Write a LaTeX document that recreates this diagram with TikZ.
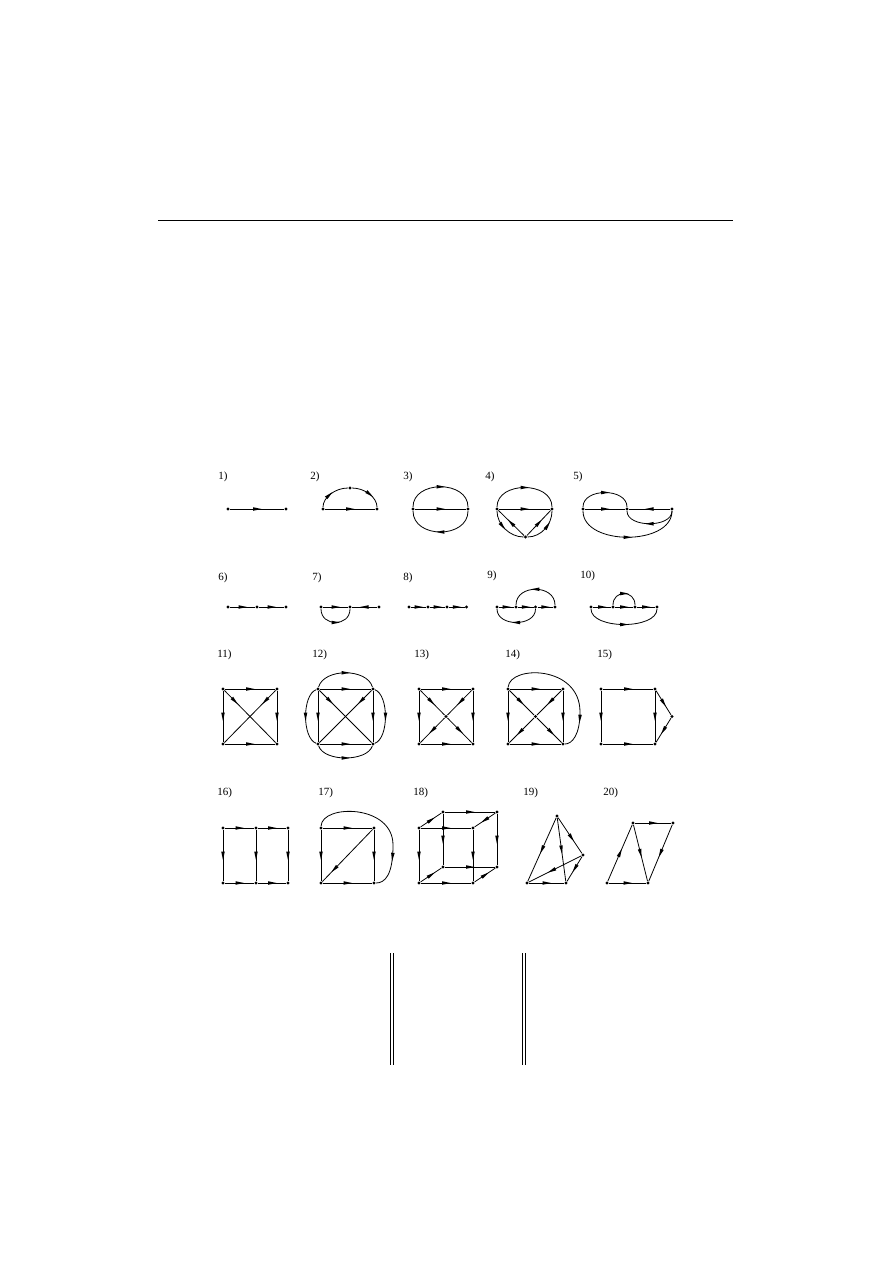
\documentclass[tikz,border=0pt]{standalone}
\usepackage{fontspec}
\setmainfont{Liberation Serif}
\usetikzlibrary{decorations.markings}

\tikzset{
  vtx/.style={circle, fill, inner sep=0pt, minimum size=3.2pt},
  midarr/.style={postaction={decorate, decoration={markings,
      mark=at position #1 with {\fill (4.5pt,0pt) -- (-4pt,1.8pt) -- (-4pt,-1.8pt) -- cycle;}}}},
  midarr/.default=0.5,
  lbl/.style={anchor=west, inner sep=0pt, font=\fontsize{11}{13}\selectfont}
}

\begin{document}
\begin{tikzpicture}[x=1pt, y=-1pt, line width=0.8pt]
                \useasboundingbox (0,0) rectangle (893,1263);
                % Rule
                \draw[line width=1pt] (158,220) -- (733,220);
                % Labels
                \foreach \x/\y/\t in {218/477/1, 310/477/2, 403/477/3, 485/477/4, 573/477/5,
                                      218/578/6, 312/578/7, 403/578/8, 487/576/9, 580/576/10,
                                      217/655/11, 312/655/12, 414/655/13, 505/655/14, 597/655/15,
                                      217/793/16, 318/793/17, 413/793/18, 523/793/19, 603/793/20} {
                    \node[lbl] (lab\t) at (\x,\y) {\t)};
                }
                % 1)
                \node[vtx] (n1a) at (228,509) {};
                \node[vtx] (n1b) at (286,509) {};
                \draw[midarr] (n1a) -- (n1b);
                % 2)
                \node[vtx] (n2l) at (323,509) {};
                \node[vtx] (n2t) at (350,488) {};
                \node[vtx] (n2r) at (377,509) {};
                \draw[midarr] (n2l) -- (n2r);
                \draw[midarr=0.4] (n2l) .. controls (323,497.4) and (335.1,488) .. (n2t);
                \draw[midarr=0.55] (n2t) .. controls (364.9,488) and (377,497.4) .. (n2r);
                % 3)
                \node[vtx] (n3l) at (413,509) {};
                \node[vtx] (n3r) at (468,509) {};
                \draw[midarr] (n3l) -- (n3r);
                \draw[midarr] (n3l) .. controls (413,480) and (468,480) .. (n3r);
                \draw[midarr] (n3r) .. controls (468,539) and (413,539) .. (n3l);
                % 4)
                \node[vtx] (n4l) at (497,509) {};
                \node[vtx] (n4r) at (552,509) {};
                \node[vtx] (n4b) at (525.5,537) {};
                \draw[midarr] (n4l) -- (n4r);
                \draw[midarr] (n4l) .. controls (497,481) and (552,481) .. (n4r);
                \draw[midarr] (n4b) -- (n4l);
                \draw[midarr] (n4b) -- (n4r);
                \draw[midarr=0.4] (n4l) .. controls (497,524.5) and (509.8,537) .. (n4b);
                \draw[midarr=0.6] (n4b) .. controls (541.2,537) and (552,524.5) .. (n4r);
                % 5)
                \node[vtx] (n5l) at (583,509) {};
                \node[vtx] (n5m) at (627,509) {};
                \node[vtx] (n5r) at (672,509) {};
                \draw[midarr] (n5l) -- (n5m);
                \draw[midarr] (n5r) -- (n5m);
                \draw[midarr] (n5l) .. controls (583,487.7) and (627,487.7) .. (n5m);
                \draw[midarr] (n5r) .. controls (672,528) and (627,528) .. (n5m);
                \draw[midarr] (n5l) .. controls (583,546) and (672,546) .. (n5r);
                % 6)
                \foreach \n/\x in {a/228, b/257, c/286} {
                    \node[vtx] (n6\n) at (\x,607) {};
                }
                \draw[midarr] (n6a) -- (n6b);
                \draw[midarr] (n6b) -- (n6c);
                % 7)
                \foreach \n/\x in {a/321, b/350, c/379} {
                    \node[vtx] (n7\n) at (\x,607) {};
                }
                \draw[midarr] (n7a) -- (n7b);
                \draw[midarr] (n7c) -- (n7b);
                \draw[midarr] (n7a) .. controls (321,627) and (350,627) .. (n7b);
                % 8)
                \foreach \n/\x in {a/409, b/428, c/447, d/466.5} {
                    \node[vtx] (n8\n) at (\x,607) {};
                }
                \draw[midarr] (n8a) -- (n8b);
                \draw[midarr] (n8b) -- (n8c);
                \draw[midarr] (n8c) -- (n8d);
                % 9)
                \foreach \n/\x in {a/497, b/516, c/535.5, d/555} {
                    \node[vtx] (n9\n) at (\x,607) {};
                }
                \draw[midarr] (n9a) -- (n9b);
                \draw[midarr] (n9b) -- (n9c);
                \draw[midarr] (n9c) -- (n9d);
                \draw[midarr] (n9d) .. controls (555,584) and (516,584) .. (n9b);
                \draw[midarr] (n9c) .. controls (535.5,627) and (497,627) .. (n9a);
                % 10)
                \foreach \n/\x in {a/591, b/613, c/635, d/657} {
                    \node[vtx] (n10\n) at (\x,607) {};
                }
                \draw[midarr] (n10a) -- (n10b);
                \draw[midarr] (n10b) -- (n10c);
                \draw[midarr] (n10c) -- (n10d);
                \draw[midarr] (n10b) .. controls (613,589.7) and (635,589.7) .. (n10c);
                \draw[midarr] (n10a) .. controls (591,629.7) and (657,629.7) .. (n10d);
                % 11)
                \node[vtx] (n11a) at (223,689) {};
                \node[vtx] (n11b) at (277,689) {};
                \node[vtx] (n11c) at (223,744) {};
                \node[vtx] (n11d) at (277,744) {};
                \draw[midarr] (n11a) -- (n11b);
                \draw[midarr] (n11a) -- (n11c);
                \draw[midarr] (n11b) -- (n11d);
                \draw[midarr] (n11c) -- (n11d);
                \draw[midarr=0.2] (n11a) -- (n11d);
                \draw[midarr=0.2] (n11b) -- (n11c);
                % 12)
                \node[vtx] (n12a) at (318,689) {};
                \node[vtx] (n12b) at (373,689) {};
                \node[vtx] (n12c) at (318,744) {};
                \node[vtx] (n12d) at (373,744) {};
                \draw[midarr] (n12a) -- (n12b);
                \draw[midarr] (n12a) -- (n12c);
                \draw[midarr] (n12b) -- (n12d);
                \draw[midarr] (n12c) -- (n12d);
                \draw[midarr=0.2] (n12a) -- (n12d);
                \draw[midarr=0.2] (n12b) -- (n12c);
                \draw[midarr] (n12a) .. controls (324,668) and (367,668) .. (n12b);
                \draw[midarr] (n12a) .. controls (302,695) and (302,738) .. (n12c);
                \draw[midarr] (n12b) .. controls (389,695) and (389,738) .. (n12d);
                \draw[midarr] (n12c) .. controls (324,762) and (367,762) .. (n12d);
                % 13)
                \node[vtx] (n13a) at (419,689) {};
                \node[vtx] (n13b) at (473,689) {};
                \node[vtx] (n13c) at (419,744) {};
                \node[vtx] (n13d) at (473,744) {};
                \node[vtx] (n13e) at (446,716.5) {};
                \draw[midarr] (n13a) -- (n13b);
                \draw[midarr] (n13a) -- (n13c);
                \draw[midarr] (n13b) -- (n13d);
                \draw[midarr] (n13c) -- (n13d);
                \draw[midarr=0.45] (n13a) -- (n13e);
                \draw[midarr=0.45] (n13b) -- (n13e);
                \draw[midarr=0.5] (n13e) -- (n13c);
                \draw[midarr=0.5] (n13e) -- (n13d);
                % 14)
                \node[vtx] (n14a) at (508,689) {};
                \node[vtx] (n14b) at (563,689) {};
                \node[vtx] (n14c) at (508,744) {};
                \node[vtx] (n14d) at (563,744) {};
                \node[vtx] (n14e) at (535.5,716.5) {};
                \coordinate (k14) at (580,712);
                \draw[midarr] (n14a) -- (n14b);
                \draw[midarr] (n14a) -- (n14c);
                \draw[midarr] (n14b) -- (n14d);
                \draw[midarr] (n14c) -- (n14d);
                \draw[midarr=0.45] (n14a) -- (n14e);
                \draw[midarr=0.45] (n14b) -- (n14e);
                \draw[midarr=0.57] (n14e) -- (n14c);
                \draw[midarr=0.57] (n14e) -- (n14d);
                \draw[midarr=0.77] (n14a) .. controls (510,665) and (580,665) .. (k14)
                    .. controls (580,735) and (572,744) .. (n14d);
                % 15)
                \node[vtx] (n15a) at (601,689) {};
                \node[vtx] (n15b) at (655,689) {};
                \node[vtx] (n15c) at (601,744) {};
                \node[vtx] (n15d) at (655,744) {};
                \node[vtx] (n15e) at (672,716.5) {};
                \draw[midarr] (n15a) -- (n15b);
                \draw[midarr] (n15a) -- (n15c);
                \draw[midarr] (n15b) -- (n15d);
                \draw[midarr] (n15c) -- (n15d);
                \draw[midarr] (n15b) -- (n15e);
                \draw[midarr] (n15e) -- (n15d);
                % 16)
                \foreach \n/\x in {a/223, b/256, c/288} {
                    \node[vtx] (n16t\n) at (\x,828) {};
                    \node[vtx] (n16b\n) at (\x,883) {};
                    \draw[midarr] (n16t\n) -- (n16b\n);
                }
                \draw[midarr] (n16ta) -- (n16tb);
                \draw[midarr] (n16tb) -- (n16tc);
                \draw[midarr] (n16ba) -- (n16bb);
                \draw[midarr] (n16bb) -- (n16bc);
                % 17)
                \node[vtx] (n17a) at (321,828) {};
                \node[vtx] (n17b) at (374,828) {};
                \node[vtx] (n17c) at (321,883) {};
                \node[vtx] (n17d) at (374,883) {};
                \coordinate (k17) at (393,845);
                \draw[midarr] (n17a) -- (n17b);
                \draw[midarr] (n17a) -- (n17c);
                \draw[midarr] (n17b) -- (n17d);
                \draw[midarr] (n17c) -- (n17d);
                \draw[midarr=0.76] (n17b) -- (n17c);
                \draw[midarr=0.76] (n17a) .. controls (322,804) and (393,804) .. (k17)
                    .. controls (393,875) and (385,883) .. (n17d);
                % 18)
                \node[vtx] (n18a) at (419,828) {};
                \node[vtx] (n18b) at (473,828) {};
                \node[vtx] (n18c) at (419,883) {};
                \node[vtx] (n18d) at (473,883) {};
                \node[vtx] (n18e) at (443,812) {};
                \node[vtx] (n18f) at (497,812) {};
                \node[vtx] (n18g) at (443,867) {};
                \node[vtx] (n18h) at (497,867) {};
                \foreach \u/\v in {a/b, e/f, a/c, e/g, b/d, f/h, c/d, g/h, a/e, f/b, c/g, d/h} {
                    \draw[midarr] (n18\u) -- (n18\v);
                }
                % 19)
                \node[vtx] (n19a) at (557,816) {};
                \node[vtx] (n19r) at (583,855) {};
                \node[vtx] (n19l) at (527,883) {};
                \node[vtx] (n19m) at (566,883) {};
                \draw[midarr] (n19a) -- (n19l);
                \draw[midarr] (n19a) -- (n19m);
                \draw[midarr=0.56] (n19a) -- (n19r);
                \draw[midarr=0.56] (n19r) -- (n19l);
                \draw[midarr=0.47] (n19r) -- (n19m);
                \draw[midarr] (n19l) -- (n19m);
                % 20)
                \node[vtx] (n20a) at (633,823) {};
                \node[vtx] (n20b) at (673,823) {};
                \node[vtx] (n20c) at (607,883) {};
                \node[vtx] (n20d) at (648,883) {};
                \draw[midarr] (n20a) -- (n20b);
                \draw[midarr] (n20c) -- (n20a);
                \draw[midarr] (n20a) -- (n20d);
                \draw[midarr] (n20b) -- (n20d);
                \draw[midarr] (n20c) -- (n20d);
                % Double rules
                \foreach \x in {390, 393.3, 522.7, 525.7} {
                    \draw[line width=0.9pt] (\x,953) -- (\x,1065);
                }
            \end{tikzpicture}
\end{document}
